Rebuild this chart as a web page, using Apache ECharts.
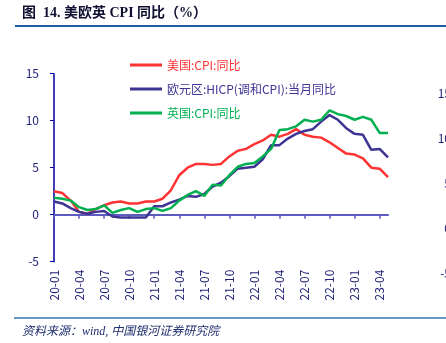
<!DOCTYPE html>
<html>
<head>
<meta charset="utf-8">
<script src="https://cdn.jsdelivr.net/npm/echarts@6/dist/echarts.min.js"></script>
<style>
  html, body { margin: 0; padding: 0; background: #fff; }
  #main { width: 446px; height: 343px; }
</style>
</head>
<body>
<div id="main"></div>
<script>
// 月份 20-01 ~ 23-05
var months = ['20-01','20-02','20-03','20-04','20-05','20-06','20-07','20-08','20-09','20-10','20-11','20-12',
              '21-01','21-02','21-03','21-04','21-05','21-06','21-07','21-08','21-09','21-10','21-11','21-12',
              '22-01','22-02','22-03','22-04','22-05','22-06','22-07','22-08','22-09','22-10','22-11','22-12',
              '23-01','23-02','23-03','23-04','23-05'];

var usCpi = [2.5,2.3,1.5,0.3,0.1,0.6,1.0,1.3,1.4,1.2,1.2,1.4,
             1.4,1.7,2.6,4.2,5.0,5.4,5.4,5.3,5.4,6.2,6.8,7.0,
             7.5,7.9,8.5,8.3,8.6,9.1,8.5,8.3,8.2,7.7,7.1,6.5,
             6.4,6.0,5.0,4.9,4.0];

var euHicp = [1.4,1.2,0.7,0.3,0.1,0.3,0.4,-0.2,-0.3,-0.3,-0.3,-0.3,
              0.9,0.9,1.3,1.6,2.0,1.9,2.2,3.0,3.4,4.1,4.9,5.0,
              5.1,5.9,7.4,7.4,8.1,8.6,8.9,9.1,9.9,10.6,10.1,9.2,
              8.6,8.5,6.9,7.0,6.1];

var ukCpi = [1.8,1.7,1.5,0.8,0.5,0.6,1.0,0.2,0.5,0.7,0.3,0.6,
             0.7,0.4,0.7,1.5,2.1,2.5,2.0,3.2,3.1,4.2,5.1,5.4,
             5.5,6.2,7.0,9.0,9.1,9.4,10.1,9.9,10.1,11.1,10.7,10.5,
             10.1,10.4,10.1,8.7,8.7];

var names = ['美国:CPI:同比', '欧元区:HICP(调和CPI):当月同比', '英国:CPI:同比'];
var colors = ['#FF3333', '#3E3494', '#00B050'];

var font = '"Noto Sans CJK SC", sans-serif';
var labelColor = '#23237A';
var lineIcon = 'path://M0,0 L32,0 L32,3 L0,3 Z';

var myChart = echarts.init(document.getElementById('main'));

option = {
    animation: false,
    textStyle: { fontFamily: font },
    graphic: [
        {
            type: 'text', left: 22, top: 6,
            style: { text: '图  14. 美欧英 CPI 同比（%）', font: 'bold 14px "Liberation Serif", "Noto Sans CJK SC"', fill: '#111133' }
        },
        { type: 'line', shape: { x1: 15, y1: 26, x2: 446, y2: 26 }, style: { stroke: '#1F5F9F', lineWidth: 2 } },
        { type: 'line', shape: { x1: 14, y1: 318, x2: 446, y2: 318 }, style: { stroke: '#2E75B6', lineWidth: 1.5 } },
        {
            type: 'text', left: 22, top: 326,
            style: { text: '资料来源：wind, 中国银河证券研究院', font: 'italic 12px "Liberation Serif", "Noto Sans CJK SC"', fill: '#1F2F6F' }
        }
    ],
    legend: {
        orient: 'vertical',
        left: 125,
        top: 54,
        itemWidth: 32,
        itemHeight: 14,
        itemGap: 12,
        icon: lineIcon,
        textStyle: { fontSize: 12, fontFamily: font },
        data: [
            { name: names[0], textStyle: { color: colors[0] } },
            { name: names[1], textStyle: { color: colors[1] } },
            { name: names[2], textStyle: { color: colors[2] } }
        ]
    },
    grid: [
        { left: 54, right: 58, top: 73.7, bottom: 81.3, outerBoundsMode: 'none' },
        { left: 54, right: 58, top: 93.3, bottom: 70, outerBoundsMode: 'none' }
    ],
    xAxis: [
        {
            type: 'category',
            data: months,
            boundaryGap: false,
            axisLine: { onZero: true, lineStyle: { color: '#5C5CC0', width: 2 } },
            axisTick: { interval: 2, length: 4, lineStyle: { color: '#5C5CC0', width: 1.5 } },
            axisLabel: { interval: 2, rotate: 90, margin: 8, fontSize: 12, color: labelColor },
            splitLine: { show: false }
        },
        { type: 'category', data: months, gridIndex: 1, show: false }
    ],
    yAxis: [
        {
            type: 'value',
            min: -5, max: 15, interval: 5,
            axisLine: { show: true, lineStyle: { color: '#0000A0', width: 1.5 } },
            axisTick: { show: true, length: 4, lineStyle: { color: '#0000A0' } },
            axisLabel: { margin: 15, fontSize: 12, color: labelColor },
            splitLine: { show: false }
        },
        {
            type: 'value',
            gridIndex: 1,
            position: 'right',
            min: -5, max: 15, interval: 5,
            axisLine: { show: false },
            axisTick: { show: false },
            axisLabel: { margin: 63, align: 'right', fontSize: 12, color: labelColor },
            splitLine: { show: false }
        }
    ],
    series: [
        { name: names[0], type: 'line', data: usCpi, symbol: 'none', lineStyle: { color: colors[0], width: 2.5 }, itemStyle: { color: colors[0] } },
        { name: names[1], type: 'line', data: euHicp, symbol: 'none', lineStyle: { color: colors[1], width: 2.5 }, itemStyle: { color: colors[1] } },
        { name: names[2], type: 'line', data: ukCpi, symbol: 'none', lineStyle: { color: colors[2], width: 2.5 }, itemStyle: { color: colors[2] } }
    ]
};
myChart.setOption(option);
</script>
</body>
</html>
